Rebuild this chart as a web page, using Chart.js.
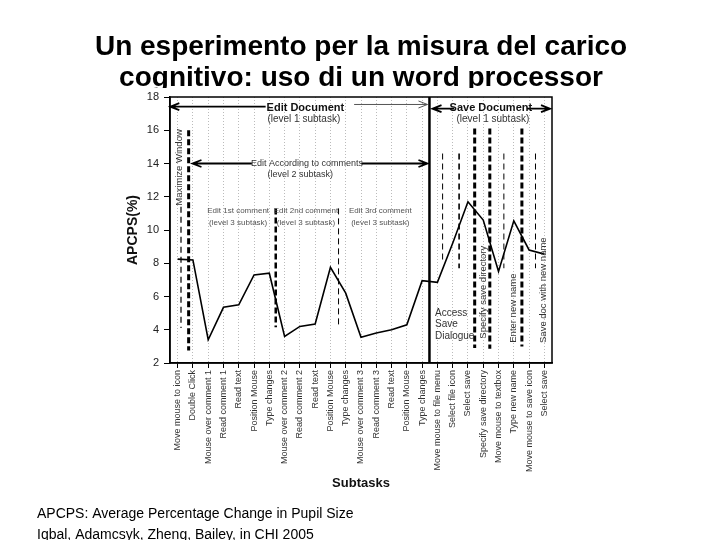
<!DOCTYPE html>
<html>
<head>
<meta charset="utf-8">
<script src="https://cdn.jsdelivr.net/npm/chart.js@4.4.1/dist/chart.umd.min.js"></script>
<style>
  html, body { margin: 0; padding: 0; background: #fff; }
  #apcpsChart { display: block; }
</style>
</head>
<body>
<canvas id="apcpsChart" width="720" height="540"></canvas>
<script>
var titleLines = ['Un esperimento per la misura del carico', 'cognitivo: uso di un word processor'];
var captionLines = ['APCPS: Average Percentage Change in Pupil Size', 'Iqbal, Adamcsyk, Zheng, Bailey, in CHI 2005'];

var subtasks = [
  'Move mouse to icon', 'Double Click', 'Mouse over comment 1', 'Read comment 1', 'Read text',
  'Position Mouse', 'Type changes', 'Mouse over comment 2', 'Read comment 2', 'Read text',
  'Position Mouse', 'Type changes', 'Mouse over comment 3', 'Read comment 3', 'Read text',
  'Position Mouse', 'Type changes', 'Move mouse to file menu', 'Select file icon', 'Select save',
  'Specify save directory', 'Move mouse to textbox', 'Type new name', 'Move mouse to save icon', 'Select save'
];
var apcps = [
  8.25, 8.2, 3.4, 5.35, 5.5, 7.3, 7.4, 3.6, 4.2, 4.35,
  7.75, 6.2, 3.55, 3.8, 4.0, 4.3, 6.95, 6.85, 9.2, 11.7,
  10.6, 7.5, 10.55, 8.8, 8.55
];
var yMin = 2, yMax = 18, yStep = 2;

// subtask boundaries: x in subtask index, top/bottom in APCPS units
var boundaryAt     = [0.22, 0.72, 6.42, 10.53, 16.48, 17.34, 18.42, 19.44, 20.43, 21.35, 22.53, 23.42];
var boundaryTop    = [11.4, 16.0, 11.3, 11.3, 18, 14.6, 14.6, 16.1, 16.1, 14.6, 16.1, 14.6];
var boundaryBottom = [4.1, 2.75, 4.15, 4.1, 2, 8.0, 7.7, 2.9, 2.85, 7.7, 3.0, 7.7];
var boundaryWeight = [1.2, 3, 2.5, 1, 0, 1, 1.6, 3, 3, 1, 3, 1];   // 0 = solid divider

// level 1 / level 2 arrows: [from x, to x, y]
var arrowFrom = [5.76, 11.55, 18.1, 22.86, 4.86, 12.02];
var arrowTo   = [-0.48, 16.35, 16.68, 24.37, 0.97, 16.35];
var arrowY    = [17.42, 17.55, 17.3, 17.3, 14.0, 14.0];
var arrowBold = [true, false, true, true, true, true];

var noteText = ['Edit Document', '(level 1 subtask)', 'Save Document', '(level 1 subtask)',
  'Edit According to comments', '(level 2 subtask)',
  'Edit 1st comment', '(level 3 subtask)', 'Edit 2nd comment', '(level 3 subtask)',
  'Edit 3rd comment', '(level 3 subtask)',
  'Access', 'Save', 'Dialogue'];
var noteX = [8.36, 8.26, 20.5, 20.63, 8.46, 8.03, 3.96, 3.96, 8.4, 8.4, 13.26, 13.26, 16.84, 16.84, 16.84];
var noteY = [17.36, 16.64, 17.33, 16.64, 14.0, 13.34, 11.18, 10.46, 11.18, 10.46, 11.18, 10.46, 5.0, 4.31, 3.6];
var noteKind = ['h1', 'sub', 'h1', 'sub', 'h2', 'h2', 'h3', 'h3', 'h3', 'h3', 'h3', 'h3', 'left', 'left', 'left'];

var sideText = ['Maximize Window', 'Specify save directory', 'Enter new name', 'Save doc with new name'];
var sideX = [0.11, 20.0, 21.94, 23.94];
var sideY = [13.76, 6.26, 5.3, 6.38];

var FONT = '"Liberation Sans", Arial, Helvetica, sans-serif';

function drawArrow(ctx, x1, y, x2, width) {
  var dir = x2 > x1 ? 1 : -1;
  ctx.lineWidth = width;
  ctx.beginPath();
  ctx.moveTo(x1, y);
  ctx.lineTo(x2, y);
  ctx.moveTo(x2 - dir * 9, y - 3.5);
  ctx.lineTo(x2, y);
  ctx.lineTo(x2 - dir * 9, y + 3.5);
  ctx.stroke();
}

var slideDecor = {
  id: 'slideDecor',
  beforeDraw: function(chart) {
    var ctx = chart.ctx;
    ctx.save();
    ctx.fillStyle = '#fff';
    ctx.fillRect(0, 0, chart.width, chart.height);

    // slide title, its descenders hidden under the pasted figure
    ctx.save();
    ctx.beginPath();
    ctx.rect(0, 0, chart.width, 88);
    ctx.clip();
    ctx.fillStyle = '#000';
    ctx.font = 'bold 28px ' + FONT;
    ctx.textAlign = 'center';
    ctx.textBaseline = 'alphabetic';
    ctx.fillText(titleLines[0], 361, 55);
    ctx.fillText(titleLines[1], 361, 86);
    ctx.restore();

    ctx.fillStyle = '#000';
    ctx.font = '14px ' + FONT;
    ctx.textAlign = 'left';
    ctx.fillText(captionLines[0], 37, 518);
    ctx.fillText(captionLines[1], 37, 539);
    ctx.restore();
  },
  afterDatasetsDraw: function(chart) {
    var ctx = chart.ctx;
    var xs = chart.scales.x, ys = chart.scales.y;
    var area = chart.chartArea;
    ctx.save();
    ctx.strokeStyle = '#000';

    for (var i = 0; i < boundaryAt.length; i++) {
      var bx = xs.getPixelForValue(boundaryAt[i]);
      ctx.beginPath();
      if (boundaryWeight[i] === 0) {
        ctx.setLineDash([]);
        ctx.lineWidth = 2.5;
      } else {
        ctx.setLineDash(boundaryWeight[i] >= 2 ? [6, 3] : [6, 4]);
        ctx.lineWidth = boundaryWeight[i];
      }
      ctx.moveTo(bx, ys.getPixelForValue(boundaryTop[i]));
      ctx.lineTo(bx, ys.getPixelForValue(boundaryBottom[i]));
      ctx.stroke();
    }
    ctx.setLineDash([]);

    ctx.lineWidth = 1.5;
    ctx.strokeRect(area.left, area.top, area.right - area.left, area.bottom - area.top);

    for (var a = 0; a < arrowFrom.length; a++) {
      ctx.strokeStyle = arrowBold[a] ? '#000' : '#555';
      drawArrow(ctx, xs.getPixelForValue(arrowFrom[a]), ys.getPixelForValue(arrowY[a]),
        xs.getPixelForValue(arrowTo[a]), arrowBold[a] ? 1.8 : 1);
    }

    ctx.textBaseline = 'middle';
    for (var n = 0; n < noteText.length; n++) {
      var k = noteKind[n];
      ctx.textAlign = k === 'left' ? 'left' : 'center';
      if (k === 'h1') { ctx.font = 'bold 11px ' + FONT; ctx.fillStyle = '#111'; }
      else if (k === 'sub') { ctx.font = '10px ' + FONT; ctx.fillStyle = '#333'; }
      else if (k === 'h2') { ctx.font = '9px ' + FONT; ctx.fillStyle = '#333'; }
      else if (k === 'h3') { ctx.font = '8px ' + FONT; ctx.fillStyle = '#555'; }
      else { ctx.font = '10px ' + FONT; ctx.fillStyle = '#333'; }
      ctx.fillText(noteText[n], xs.getPixelForValue(noteX[n]), ys.getPixelForValue(noteY[n]));
    }

    ctx.font = '9.5px ' + FONT;
    ctx.fillStyle = '#333';
    ctx.textAlign = 'center';
    for (var s = 0; s < sideText.length; s++) {
      ctx.save();
      ctx.translate(xs.getPixelForValue(sideX[s]), ys.getPixelForValue(sideY[s]));
      ctx.rotate(-Math.PI / 2);
      ctx.fillText(sideText[s], 0, 0);
      ctx.restore();
    }
    ctx.restore();
  }
};

var chart = new Chart(document.getElementById('apcpsChart'), {
  type: 'line',
  data: {
    labels: subtasks,
    datasets: [{
      data: apcps,
      borderColor: '#000',
      borderWidth: 1.6,
      pointRadius: 0,
      tension: 0,
      fill: false
    }]
  },
  options: {
    responsive: false,
    animation: false,
    layout: { padding: { top: 97, left: 120, right: 168, bottom: 49 } },
    plugins: { legend: { display: false }, tooltip: { enabled: false } },
    scales: {
      x: {
        offset: true,
        afterFit: function(scale) { scale.height = 128; },
        grid: { offset: false, color: '#bbb', lineWidth: 1, tickColor: '#000', tickLength: 5, tickBorderDash: [] },
        border: { display: true, color: '#000', width: 1.5, dash: [1, 2] },
        ticks: {
          autoSkip: false, minRotation: 90, maxRotation: 90, padding: 2,
          color: '#333', font: { family: FONT, size: 9 }
        },
        title: {
          display: true, text: 'Subtasks', color: '#111',
          font: { family: FONT, size: 13, weight: 'bold' },
          padding: { top: 0, bottom: 0 }
        }
      },
      y: {
        min: yMin, max: yMax,
        afterFit: function(scale) { scale.width = 50; },
        grid: { color: 'rgba(0,0,0,0)', tickColor: '#000', tickLength: 6 },
        border: { display: true, color: '#000', width: 1.5 },
        ticks: { stepSize: yStep, padding: 5, color: '#222', font: { family: FONT, size: 11 } },
        title: {
          display: true, text: 'APCPS(%)', color: '#111',
          font: { family: FONT, size: 14, weight: 'bold' },
          padding: { top: 5, bottom: 0 }
        }
      }
    }
  },
  plugins: [slideDecor]
});
</script>
</body>
</html>
